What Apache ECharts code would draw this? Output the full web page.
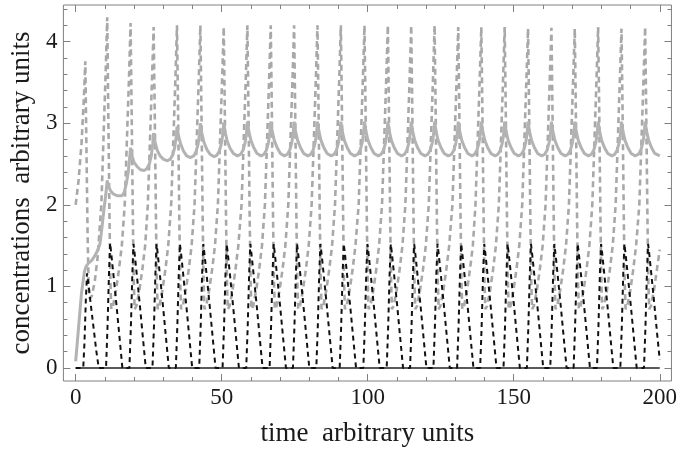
<!DOCTYPE html>
<html><head><meta charset="utf-8">
<script src="https://cdn.jsdelivr.net/npm/echarts@6/dist/echarts.min.js"></script>
<style>html,body{margin:0;padding:0;background:#fff}#c{width:680px;height:452px}</style>
</head><body><div id="c"></div>
<script>
// tick positions
const xMajorTicks = [0, 50, 100, 150, 200];
const xMinorTicks = [0,10,20,30,40,50,60,70,80,90,100,110,120,130,140,150,160,170,180,190,200];
const yMajorTicks = [0, 1, 2, 3, 4];
const yMinorTicks = [0,0.2,0.4,0.6,0.8,1,1.2,1.4,1.6,1.8,2,2.2,2.4,2.6,2.8,3,3.2,3.4,3.6,3.8,4,4.2,4.4];

// gray dashed series [time, value]
const grayDashed = [
[0,2.0],[1,2.3],[2,2.75],[2.8,3.3],[3.3,3.76],[3.65,2.8],[4.1,1.6],[4.45,1.0],[4.8,0.85],[5.5,0.88],[6.5,1.05],[7.5,1.35],
[8.8,2.0],[9.6,2.9],[10.3,3.65],[10.8,4.3],[11.15,3.2],[11.6,1.8],[11.9,1.05],[12.2,0.72],[12.8,0.76],[13.8,0.95],[14.8,1.2],[15.8,1.5],
[16.8,2.0],[17.6,2.85],[18.3,3.6],[18.8,4.23],[19.15,3.2],[19.6,1.8],[19.9,1.05],[20.2,0.72],[20.8,0.76],[21.8,0.95],[22.8,1.2],[23.8,1.5],
[24.7,2.0],[25.5,2.85],[26.2,3.6],[26.7,4.18],[27.05,3.2],[27.5,1.8],[27.8,1.05],[28.1,0.72],[28.7,0.76],[29.7,0.95],[30.7,1.2],[31.7,1.5],
[32.7,2.0],[33.5,2.85],[34.2,3.6],[34.7,4.2],[35.05,3.2],[35.5,1.8],[35.8,1.05],[36.1,0.72],[36.7,0.76],[37.7,0.95],[38.7,1.2],[39.7,1.5],
[40.7,2.0],[41.5,2.85],[42.2,3.6],[42.7,4.2],[43.05,3.2],[43.5,1.8],[43.8,1.05],[44.1,0.72],[44.7,0.76],[45.7,0.95],[46.7,1.2],[47.7,1.5],
[48.7,2.0],[49.5,2.85],[50.2,3.6],[50.7,4.18],[51.05,3.2],[51.5,1.8],[51.8,1.05],[52.1,0.72],[52.7,0.76],[53.7,0.95],[54.7,1.2],[55.7,1.5],
[56.8,2.0],[57.6,2.85],[58.3,3.6],[58.8,4.2],[59.15,3.2],[59.6,1.8],[59.9,1.05],[60.2,0.72],[60.8,0.76],[61.8,0.95],[62.8,1.2],[63.8,1.5],
[64.8,2.0],[65.6,2.85],[66.3,3.6],[66.8,4.2],[67.15,3.2],[67.6,1.8],[67.9,1.05],[68.2,0.72],[68.8,0.76],[69.8,0.95],[70.8,1.2],[71.8,1.5],
[72.8,2.0],[73.6,2.85],[74.3,3.6],[74.8,4.2],[75.15,3.2],[75.6,1.8],[75.9,1.05],[76.2,0.72],[76.8,0.76],[77.8,0.95],[78.8,1.2],[79.8,1.5],
[80.8,2.0],[81.6,2.85],[82.3,3.6],[82.8,4.2],[83.15,3.2],[83.6,1.8],[83.9,1.05],[84.2,0.72],[84.8,0.76],[85.8,0.95],[86.8,1.2],[87.8,1.5],
[88.8,2.0],[89.6,2.85],[90.3,3.6],[90.8,4.2],[91.15,3.2],[91.6,1.8],[91.9,1.05],[92.2,0.72],[92.8,0.76],[93.8,0.95],[94.8,1.2],[95.8,1.5],
[96.9,2.0],[97.7,2.85],[98.4,3.6],[98.9,4.2],[99.25,3.2],[99.7,1.8],[100.0,1.05],[100.3,0.72],[100.9,0.76],[101.9,0.95],[102.9,1.2],[103.9,1.5],
[104.9,2.0],[105.7,2.85],[106.4,3.6],[106.9,4.2],[107.25,3.2],[107.7,1.8],[108.0,1.05],[108.3,0.72],[108.9,0.76],[109.9,0.95],[110.9,1.2],[111.9,1.5],
[112.9,2.0],[113.7,2.85],[114.4,3.6],[114.9,4.2],[115.25,3.2],[115.7,1.8],[116.0,1.05],[116.3,0.72],[116.9,0.76],[117.9,0.95],[118.9,1.2],[119.9,1.5],
[120.9,2.0],[121.7,2.85],[122.4,3.6],[122.9,4.2],[123.25,3.2],[123.7,1.8],[124.0,1.05],[124.3,0.72],[124.9,0.76],[125.9,0.95],[126.9,1.2],[127.9,1.5],
[129.0,2.0],[129.8,2.85],[130.5,3.6],[131.0,4.18],[131.35,3.2],[131.8,1.8],[132.1,1.05],[132.4,0.72],[133.0,0.76],[134.0,0.95],[135.0,1.2],[136.0,1.5],
[136.9,2.0],[137.7,2.85],[138.4,3.6],[138.9,4.18],[139.25,3.2],[139.7,1.8],[140.0,1.05],[140.3,0.72],[140.9,0.76],[141.9,0.95],[142.9,1.2],[143.9,1.5],
[144.9,2.0],[145.7,2.85],[146.4,3.6],[146.9,4.18],[147.25,3.2],[147.7,1.8],[148.0,1.05],[148.3,0.72],[148.9,0.76],[149.9,0.95],[150.9,1.2],[151.9,1.5],
[152.9,2.0],[153.7,2.85],[154.4,3.6],[154.9,4.16],[155.25,3.2],[155.7,1.8],[156.0,1.05],[156.3,0.72],[156.9,0.76],[157.9,0.95],[158.9,1.2],[159.9,1.5],
[160.9,2.0],[161.7,2.85],[162.4,3.6],[162.9,4.17],[163.25,3.2],[163.7,1.8],[164.0,1.05],[164.3,0.72],[164.9,0.76],[165.9,0.95],[166.9,1.2],[167.9,1.5],
[168.9,2.0],[169.7,2.85],[170.4,3.6],[170.9,4.16],[171.25,3.2],[171.7,1.8],[172.0,1.05],[172.3,0.72],[172.9,0.76],[173.9,0.95],[174.9,1.2],[175.9,1.5],
[176.9,2.0],[177.7,2.85],[178.4,3.6],[178.9,4.18],[179.25,3.2],[179.7,1.8],[180.0,1.05],[180.3,0.72],[180.9,0.76],[181.9,0.95],[182.9,1.2],[183.9,1.5],
[184.9,2.0],[185.7,2.85],[186.4,3.6],[186.9,4.16],[187.25,3.2],[187.7,1.8],[188.0,1.05],[188.3,0.72],[188.9,0.76],[189.9,0.95],[190.9,1.2],[191.9,1.5],
[193.0,2.0],[193.8,2.85],[194.5,3.6],[195.0,4.18],[195.35,3.2],[195.8,1.8],[196.1,1.05],[196.4,0.72],[197.0,0.76],[198.0,0.95],[199.0,1.2],[200.0,1.45]
];

// black dashed series [time, value]
const blackDashed = [
[0,0],[2.6,0],[3.0,0.3],[3.5,0.85],[3.9,1.16],[4.3,1.05],[5.1,0.8],[6.1,0.5],[7.1,0.2],[7.9,0],
[10.4,0],[10.9,0.5],[11.4,1.15],[11.8,1.53],[12.2,1.4],[13.0,1.12],[14.0,0.76],[15.0,0.38],[16.0,0],
[18.4,0],[18.9,0.5],[19.4,1.15],[19.8,1.52],[20.2,1.4],[21.0,1.12],[22.0,0.76],[23.0,0.38],[24.0,0],
[26.3,0],[26.8,0.5],[27.3,1.15],[27.7,1.52],[28.1,1.4],[28.9,1.12],[29.9,0.76],[30.9,0.38],[31.9,0],
[34.3,0],[34.8,0.5],[35.3,1.15],[35.7,1.52],[36.1,1.4],[36.9,1.12],[37.9,0.76],[38.9,0.38],[39.9,0],
[42.3,0],[42.8,0.5],[43.3,1.15],[43.7,1.52],[44.1,1.4],[44.9,1.12],[45.9,0.76],[46.9,0.38],[47.9,0],
[50.3,0],[50.8,0.5],[51.3,1.15],[51.7,1.52],[52.1,1.4],[52.9,1.12],[53.9,0.76],[54.9,0.38],[55.9,0],
[58.4,0],[58.9,0.5],[59.4,1.15],[59.8,1.52],[60.2,1.4],[61.0,1.12],[62.0,0.76],[63.0,0.38],[64.0,0],
[66.4,0],[66.9,0.5],[67.4,1.15],[67.8,1.52],[68.2,1.4],[69.0,1.12],[70.0,0.76],[71.0,0.38],[72.0,0],
[74.4,0],[74.9,0.5],[75.4,1.15],[75.8,1.52],[76.2,1.4],[77.0,1.12],[78.0,0.76],[79.0,0.38],[80.0,0],
[82.4,0],[82.9,0.5],[83.4,1.15],[83.8,1.52],[84.2,1.4],[85.0,1.12],[86.0,0.76],[87.0,0.38],[88.0,0],
[90.4,0],[90.9,0.5],[91.4,1.15],[91.8,1.52],[92.2,1.4],[93.0,1.12],[94.0,0.76],[95.0,0.38],[96.0,0],
[98.5,0],[99.0,0.5],[99.5,1.15],[99.9,1.52],[100.3,1.4],[101.1,1.12],[102.1,0.76],[103.1,0.38],[104.1,0],
[106.5,0],[107.0,0.5],[107.5,1.15],[107.9,1.52],[108.3,1.4],[109.1,1.12],[110.1,0.76],[111.1,0.38],[112.1,0],
[114.5,0],[115.0,0.5],[115.5,1.15],[115.9,1.52],[116.3,1.4],[117.1,1.12],[118.1,0.76],[119.1,0.38],[120.1,0],
[122.5,0],[123.0,0.5],[123.5,1.15],[123.9,1.52],[124.3,1.4],[125.1,1.12],[126.1,0.76],[127.1,0.38],[128.1,0],
[130.6,0],[131.1,0.5],[131.6,1.15],[132.0,1.52],[132.4,1.4],[133.2,1.12],[134.2,0.76],[135.2,0.38],[136.2,0],
[138.5,0],[139.0,0.5],[139.5,1.15],[139.9,1.52],[140.3,1.4],[141.1,1.12],[142.1,0.76],[143.1,0.38],[144.1,0],
[146.5,0],[147.0,0.5],[147.5,1.15],[147.9,1.52],[148.3,1.4],[149.1,1.12],[150.1,0.76],[151.1,0.38],[152.1,0],
[154.5,0],[155.0,0.5],[155.5,1.15],[155.9,1.52],[156.3,1.4],[157.1,1.12],[158.1,0.76],[159.1,0.38],[160.1,0],
[162.5,0],[163.0,0.5],[163.5,1.15],[163.9,1.52],[164.3,1.4],[165.1,1.12],[166.1,0.76],[167.1,0.38],[168.1,0],
[170.5,0],[171.0,0.5],[171.5,1.15],[171.9,1.52],[172.3,1.4],[173.1,1.12],[174.1,0.76],[175.1,0.38],[176.1,0],
[178.5,0],[179.0,0.5],[179.5,1.15],[179.9,1.52],[180.3,1.4],[181.1,1.12],[182.1,0.76],[183.1,0.38],[184.1,0],
[186.5,0],[187.0,0.5],[187.5,1.15],[187.9,1.52],[188.3,1.4],[189.1,1.12],[190.1,0.76],[191.1,0.38],[192.1,0],
[194.6,0],[195.1,0.5],[195.6,1.15],[196.0,1.52],[196.4,1.4],[197.2,1.12],[198.2,0.76],[199.2,0.38],[200,0.1]
];

// gray solid series [time, value]
const graySolid = [
[0,0.08],[1,0.5],[2,0.92],[3,1.18],[3.5,1.24],[4.5,1.29],[5.5,1.32],[6.5,1.37],[7.5,1.44],[8.3,1.52],[9.0,1.72],[9.7,1.95],[10.3,2.12],
[10.8,2.3],[11.3,2.22],[12.0,2.17],[13.0,2.13],[14.3,2.11],[15.8,2.11],[16.6,2.15],[17.3,2.25],[18.0,2.4],[18.5,2.58],
[18.8,2.7],[19.3,2.6],[20.0,2.52],[21.0,2.47],[22.2,2.43],[23.4,2.42],[24.3,2.44],[25.2,2.5],[25.9,2.6],[26.4,2.75],
[26.7,2.88],[27.2,2.77],[27.9,2.67],[28.9,2.6],[30.0,2.56],[31.4,2.54],[32.4,2.56],[33.2,2.61],[33.9,2.7],[34.4,2.83],
[34.7,2.96],[35.2,2.85],[35.9,2.75],[36.9,2.66],[38.0,2.6],[39.4,2.58],[40.4,2.6],[41.2,2.65],[41.9,2.74],[42.4,2.86],
[42.7,3.0],[43.2,2.88],[43.9,2.77],[44.9,2.68],[46.0,2.62],[47.4,2.59],[48.4,2.61],[49.2,2.66],[49.9,2.75],[50.4,2.87],
[50.7,3.01],[51.2,2.89],[51.9,2.78],[52.9,2.69],[54.0,2.63],[55.4,2.6],[56.5,2.62],[57.3,2.67],[58.0,2.76],[58.5,2.88],
[58.8,3.02],[59.3,2.9],[60.0,2.79],[61.0,2.7],[62.1,2.63],[63.5,2.6],[64.5,2.62],[65.3,2.67],[66.0,2.76],[66.5,2.88],
[66.8,3.02],[67.3,2.9],[68.0,2.79],[69.0,2.7],[70.1,2.63],[71.5,2.6],[72.5,2.62],[73.3,2.67],[74.0,2.76],[74.5,2.88],
[74.8,3.02],[75.3,2.9],[76.0,2.79],[77.0,2.7],[78.1,2.63],[79.5,2.6],[80.5,2.62],[81.3,2.67],[82.0,2.76],[82.5,2.88],
[82.8,3.02],[83.3,2.9],[84.0,2.79],[85.0,2.7],[86.1,2.63],[87.5,2.6],[88.5,2.62],[89.3,2.67],[90.0,2.76],[90.5,2.88],
[90.8,3.02],[91.3,2.9],[92.0,2.79],[93.0,2.7],[94.1,2.63],[95.5,2.6],[96.6,2.62],[97.4,2.67],[98.1,2.76],[98.6,2.88],
[98.9,3.02],[99.4,2.9],[100.1,2.79],[101.1,2.7],[102.2,2.63],[103.6,2.6],[104.6,2.62],[105.4,2.67],[106.1,2.76],[106.6,2.88],
[106.9,3.02],[107.4,2.9],[108.1,2.79],[109.1,2.7],[110.2,2.63],[111.6,2.6],[112.6,2.62],[113.4,2.67],[114.1,2.76],[114.6,2.88],
[114.9,3.02],[115.4,2.9],[116.1,2.79],[117.1,2.7],[118.2,2.63],[119.6,2.6],[120.6,2.62],[121.4,2.67],[122.1,2.76],[122.6,2.88],
[122.9,3.02],[123.4,2.9],[124.1,2.79],[125.1,2.7],[126.2,2.63],[127.6,2.6],[128.7,2.62],[129.5,2.67],[130.2,2.76],[130.7,2.88],
[131.0,3.02],[131.5,2.9],[132.2,2.79],[133.2,2.7],[134.3,2.63],[135.7,2.6],[136.6,2.62],[137.4,2.67],[138.1,2.76],[138.6,2.88],
[138.9,3.02],[139.4,2.9],[140.1,2.79],[141.1,2.7],[142.2,2.63],[143.6,2.6],[144.6,2.62],[145.4,2.67],[146.1,2.76],[146.6,2.88],
[146.9,3.02],[147.4,2.9],[148.1,2.79],[149.1,2.7],[150.2,2.63],[151.6,2.6],[152.6,2.62],[153.4,2.67],[154.1,2.76],[154.6,2.88],
[154.9,3.02],[155.4,2.9],[156.1,2.79],[157.1,2.7],[158.2,2.63],[159.6,2.6],[160.6,2.62],[161.4,2.67],[162.1,2.76],[162.6,2.88],
[162.9,3.02],[163.4,2.9],[164.1,2.79],[165.1,2.7],[166.2,2.63],[167.6,2.6],[168.6,2.62],[169.4,2.67],[170.1,2.76],[170.6,2.88],
[170.9,3.02],[171.4,2.9],[172.1,2.79],[173.1,2.7],[174.2,2.63],[175.6,2.6],[176.6,2.62],[177.4,2.67],[178.1,2.76],[178.6,2.88],
[178.9,3.02],[179.4,2.9],[180.1,2.79],[181.1,2.7],[182.2,2.63],[183.6,2.6],[184.6,2.62],[185.4,2.67],[186.1,2.76],[186.6,2.88],
[186.9,3.02],[187.4,2.9],[188.1,2.79],[189.1,2.7],[190.2,2.63],[191.6,2.6],[192.7,2.62],[193.5,2.67],[194.2,2.76],[194.7,2.88],
[195.0,3.02],[195.5,2.9],[196.2,2.79],[197.2,2.7],[198.3,2.63],[200,2.6]
];

// zero-level series
const zeroLine = [[0,0],[200,0]];

const FONT = 'Liberation Serif';
const FRAME = '#808080';
const TXT = '#1a1a1a';

function xAx(pos, ticks, len, labels, name) {
  return {
    type: 'value', position: pos, min: -4.2, max: 204, gridIndex: 0,
    axisLine: { show: false, onZero: false },
    splitLine: { show: false },
    axisTick: { show: true, inside: true, length: len, customValues: ticks, lineStyle: { color: FRAME, width: 1 } },
    axisLabel: labels ? { show: true, customValues: ticks, fontFamily: FONT, fontSize: 23, color: TXT, margin: 5 } : { show: false },
    name: name || '', nameLocation: 'middle', nameGap: 39,
    nameTextStyle: { fontFamily: FONT, fontSize: 27, color: TXT }
  };
}
function yAx(pos, ticks, len, labels, name) {
  return {
    type: 'value', position: pos, min: -0.16, max: 4.45, gridIndex: 0,
    axisLine: { show: false, onZero: false },
    splitLine: { show: false },
    axisTick: { show: true, inside: true, length: len, customValues: ticks, lineStyle: { color: FRAME, width: 1 } },
    axisLabel: labels ? { show: true, customValues: ticks, fontFamily: FONT, fontSize: 23, color: TXT, margin: 6 } : { show: false },
    name: name || '', nameLocation: 'middle', nameGap: 11, nameRotate: 90,
    nameTextStyle: { fontFamily: FONT, fontSize: 27, color: TXT }
  };
}

const chart = echarts.init(document.getElementById('c'), null, { renderer: 'canvas' });
chart.setOption({
  animation: false,
  backgroundColor: '#fff',
  grid: { left: 63, right: 7, top: 5, bottom: 69, show: true, borderColor: FRAME, borderWidth: 1, backgroundColor: 'transparent' },
  xAxis: [
    xAx('bottom', xMajorTicks, 7, true, 'time  arbitrary units'),
    xAx('bottom', xMinorTicks, 4, false),
    xAx('top', xMajorTicks, 7, false),
    xAx('top', xMinorTicks, 4, false)
  ],
  yAxis: [
    yAx('left', yMajorTicks, 7, true, 'concentrations  arbitrary units'),
    yAx('left', yMinorTicks, 4, false),
    yAx('right', yMajorTicks, 7, false),
    yAx('right', yMinorTicks, 4, false)
  ],
  series: [
    { type: 'line', data: grayDashed, showSymbol: false, xAxisIndex: 0, yAxisIndex: 0,
      lineStyle: { color: '#a8a8a8', width: 2.6, type: [6, 4] } },
    { type: 'line', data: graySolid, showSymbol: false, xAxisIndex: 0, yAxisIndex: 0,
      lineStyle: { color: '#b3b3b3', width: 3 } },
    { type: 'line', data: zeroLine, showSymbol: false, xAxisIndex: 0, yAxisIndex: 0,
      lineStyle: { color: '#222', width: 1.5 } },
    { type: 'line', data: blackDashed, showSymbol: false, xAxisIndex: 0, yAxisIndex: 0,
      lineStyle: { color: '#111', width: 2, type: [5, 4] } }
  ]
});
</script>
</body></html>
